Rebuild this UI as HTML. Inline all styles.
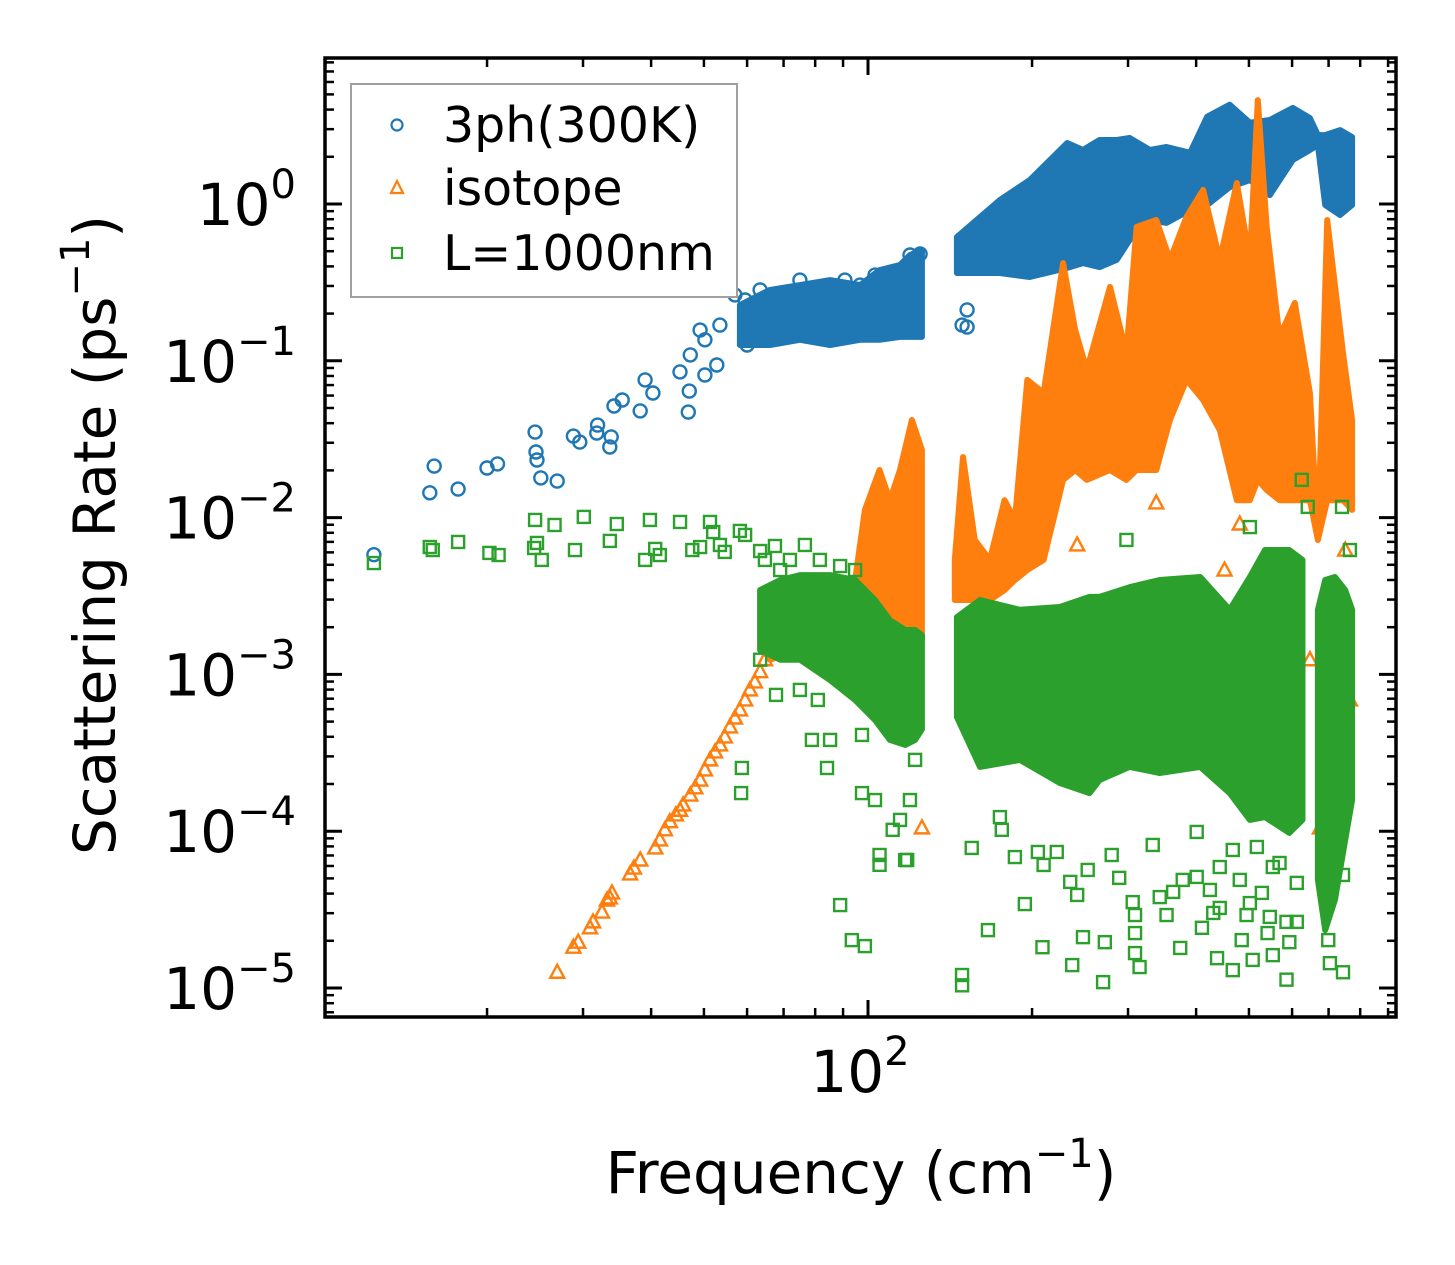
<!DOCTYPE html>
<html><head><meta charset="utf-8"><style>
html,body{margin:0;padding:0;background:#fff;}
svg{display:block;font-family:"DejaVu Sans","Liberation Sans",sans-serif;}
</style></head><body>
<svg id="chart" width="1455" height="1265" viewBox="0 0 1455 1265" xmlns="http://www.w3.org/2000/svg">
<rect width="1455" height="1265" fill="#fff"/>
<defs><clipPath id="plotclip"><rect x="325" y="58" width="1071" height="959"/></clipPath></defs>
<g id="marks" clip-path="url(#plotclip)"></g>
<g id="axes"></g>
<text x="861" y="1193" font-size="58" text-anchor="middle">Frequency (cm<tspan font-size="40" dy="-26">−1</tspan><tspan dy="26">)</tspan></text>
<text transform="translate(115,535) rotate(-90)" font-size="58" text-anchor="middle">Scattering Rate (ps<tspan font-size="40" dy="-26">−1</tspan><tspan dy="26">)</tspan></text>
<g>
<rect x="351" y="84" width="386" height="213" fill="#fff" stroke="#a0a0a0" stroke-width="2"/>
<circle cx="397" cy="125" r="5.5" fill="none" stroke="#1f77b4" stroke-width="2.2"/>
<text x="443" y="142" font-size="49">3ph(300K)</text>
<polygon points="397,181 403,193 391,193" fill="none" stroke="#ff7f0e" stroke-width="2.2"/>
<text x="443" y="205" font-size="49">isotope</text>
<rect x="392" y="248" width="10" height="10" fill="none" stroke="#2ca02c" stroke-width="2.2"/>
<text x="443" y="270" font-size="49">L=1000nm</text>
</g>
</svg>
<script>
// ---------- data ----------
var blueFreq=[12.4,15.7,16.0,17.7,20.0,20.9,24.5,24.6,24.7,25.1,26.9,28.8,29.6,31.8,31.9,33.6,33.8,34.2,35.4,38.2,39.0,40.3,47.0,46.8,45.2,50.2,52.8,60.0,62.6,66.1,70.4,63.4,50.2,47.2,49.2,53.5,57.0,59.5,63.4,75.0,85.2,90.7,96.7,103,105,114.5,119.4,124.6,152,152,148.8];
var blueRate=[0.0058,0.0144,0.0213,0.0152,0.0207,0.022,0.0351,0.0262,0.0233,0.0179,0.0171,0.0331,0.0303,0.0346,0.0389,0.0282,0.0327,0.0515,0.0562,0.0479,0.0755,0.0623,0.0641,0.0471,0.0849,0.0812,0.094,0.126,0.14,0.196,0.244,0.164,0.136,0.109,0.157,0.169,0.263,0.244,0.283,0.327,0.283,0.327,0.304,0.352,0.283,0.379,0.473,0.48,0.211,0.164,0.169];
var blueBandAFreq=[58.2,66.1,75,85.2,96.7,105,114.5,119.4,125.6];
var blueBandAHigh=[0.227,0.283,0.304,0.327,0.304,0.379,0.408,0.473,0.509];
var blueBandALow=[0.126,0.126,0.136,0.126,0.136,0.136,0.142,0.142,0.142];
var blueBandBFreq=[145.6,174.6,198,232,248,266,286,302,329,353,390,419,461,502,546,602,647,669,690,735,773];
var blueBandBHigh=[0.616,1.06,1.42,2.45,2.21,2.56,2.56,2.64,2.21,2.31,2.12,3.6,4.3,3.3,3.43,4.1,3.53,2.75,2.75,2.96,2.67];
var blueBandBLow=[0.363,0.363,0.342,0.391,0.42,0.396,0.44,0.589,0.79,0.757,0.916,0.985,1.28,1.42,1.14,1.91,2.21,2.38,0.985,0.851,0.985];

var orangeFreq=[26.9,28.8,29.4,30.9,31.3,32.5,33.2,33.6,33.9,36.6,37.2,38.2,40.7,41.5,42.4,43.3,44.4,45.2,45.8,47.2,48.2,49.2,50.2,51.3,52.4,53.5,54.6,55.8,57.0,58.2,59.5,60.7,62.0,63.4,64.7,66.1,751,647,751,481,451,338,675,242,766,125.6];
var orangeRate=[1.26e-5,1.82e-5,1.96e-5,2.42e-5,2.64e-5,3.05e-5,3.64e-5,3.75e-5,4.04e-5,5.34e-5,5.82e-5,6.55e-5,7.82e-5,8.79e-5,1.02e-4,1.15e-4,1.27e-4,1.36e-4,1.47e-4,1.70e-4,1.89e-4,2.12e-4,2.46e-4,2.85e-4,3.2e-4,3.55e-4,3.99e-4,4.62e-4,5.27e-4,5.93e-4,6.87e-4,7.96e-4,8.95e-4,1.04e-3,1.24e-3,1.43e-3,3.4e-4,1.24e-3,0.00621,0.0091,0.00463,0.0124,1.05e-4,0.00669,6.87e-4,1.05e-4];
var orangeBandAFreq=[66.1,75,85.2,94.7,98.7,105,109.7,114.5,120.4,125.6];
var orangeBandAHigh=[1.43e-3,1.78e-3,2.22e-3,4.0e-3,0.0112,0.0201,0.0129,0.0201,0.0419,0.027];
var orangeBandALow=[1.24e-3,1.43e-3,1.66e-3,1.66e-3,1.66e-3,1.66e-3,1.66e-3,1.66e-3,1.66e-3,1.66e-3];
var orangeBandBFreq=[144.3,149.4,157,167.4,178,186,196,210,228,240,252,278,298,311,338,358,384,412,442,475,502,519,539,569,607,647,669,696,744,773];
var orangeBandBHigh=[0.00537,0.0243,0.0072,0.00537,0.0129,0.00966,0.0755,0.0623,0.42,0.157,0.0873,0.296,0.112,0.714,0.79,0.44,0.826,1.23,0.44,1.36,0.44,4.6,0.714,0.142,0.234,0.0623,0.0072,0.79,0.112,0.0419];
var orangeBandBLow=[0.00298,0.00298,0.00298,0.00298,0.00345,0.004,0.00463,0.00537,0.0174,0.0201,0.0174,0.0201,0.0174,0.0201,0.0201,0.0419,0.0755,0.0562,0.0362,0.0129,0.0129,0.0174,0.015,0.0129,0.0129,0.0129,0.0072,0.0129,0.0129,0.0112];

var greenFreq=[12.4,15.7,15.9,17.7,20.2,21.0,24.4,24.5,24.7,25.2,26.6,29.0,30.1,33.6,34.6,39.8,40.7,45.2,47.6,51.3,52.0,54.6,58.2,59.5,63.4,67.5,71.9,76.6,81.6,88.9,94.7,39.0,41.5,49.2,53.5,64.7,69.0,
58.7,58.5,78.9,85.2,84.1,97.5,97.5,103,105,111,114.5,119.4,122,117,88.9,93.4,98.7,80.9,63.4,67.8,75,105,118,
155,166,148.8,148.8,174.6,176,186,194,205,209,210,222,235,242,237,248,253,270,272,280,289,306,309,309,309,315,343,353,363,378,374,401,410,424,430,437,442,467,485,495,508,502,528,541,553,546,586,586,612,593,612,704,744,744,699,401,333,467,481,442,553,517,569,625,641,741,502,298,766];
var greenRate=[0.00513,0.00649,0.00621,0.00699,0.00595,0.00577,0.0064,0.00966,0.00689,0.00537,0.00897,0.00621,0.0101,0.0071,0.0091,0.00966,0.00631,0.00938,0.00621,0.00938,0.00809,0.00604,0.00822,0.00775,0.00612,0.00659,0.00537,0.00669,0.00537,0.00491,0.00463,0.00537,0.00577,0.00649,0.00669,0.00537,0.00463,
2.53e-4,1.75e-4,3.82e-4,3.82e-4,2.53e-4,4.11e-4,1.75e-4,1.58e-4,7.05e-5,1.02e-4,1.18e-4,1.58e-4,2.85e-4,6.55e-5,3.38e-5,2.02e-5,1.85e-5,6.87e-4,1.24e-3,7.4e-4,7.96e-4,6.1e-5,6.55e-5,
7.82e-5,2.34e-5,1.21e-5,1.04e-5,1.23e-4,1.02e-4,6.84e-5,3.43e-5,7.37e-5,1.82e-5,6.09e-5,7.37e-5,4.75e-5,3.92e-5,1.4e-5,2.11e-5,5.66e-5,1.09e-5,1.96e-5,7.05e-5,5.04e-5,3.53e-5,2.92e-5,2.24e-5,1.67e-5,1.36e-5,3.8e-5,2.92e-5,4.1e-5,4.89e-5,1.8e-5,5.11e-5,2.42e-5,4.22e-5,3.01e-5,1.55e-5,3.24e-5,1.3e-5,2.02e-5,2.92e-5,1.51e-5,3.48e-5,4.04e-5,2.24e-5,1.62e-5,2.84e-5,1.13e-5,2.64e-5,2.64e-5,1.96e-5,4.68e-5,1.44e-5,1.26e-5,5.26e-5,2.02e-5,9.89e-5,8.17e-5,7.59e-5,4.89e-5,5.91e-5,5.91e-5,7.93e-5,6.27e-5,0.0174,0.0117,0.0117,0.0087,0.0072,0.00621];
var greenBandAFreq=[63.4,69.0,75,85.2,94.7,103,109.7,117,122,125.6];
var greenBandAHigh=[0.00345,0.004,0.0043,0.0043,0.004,0.00298,0.00222,0.00192,0.00192,0.00178];
var greenBandALow=[0.00143,0.00124,0.00124,0.00092,0.000687,0.000512,0.000382,0.000355,0.000382,0.000446];
var greenBandBFreq=[145.6,160.5,190,225,255,266,302,343,407,461,502,535,593,627];
var greenBandBHigh=[0.00232,0.00298,0.00258,0.00269,0.00312,0.00312,0.0036,0.004,0.00418,0.00258,0.00418,0.00621,0.00621,0.00537];
var greenBandBLow=[5.35e-4,2.57e-4,2.85e-4,2.03e-4,1.75e-4,2.12e-4,2.57e-4,2.35e-4,2.57e-4,1.75e-4,1.18e-4,1.23e-4,9.75e-5,1.18e-4];
var greenBandCFreq=[669,690,719,751,773];
var greenBandCHigh=[0.00258,0.004,0.00418,0.00345,0.00258];
var greenBandCLow=[4.89e-5,2.34e-5,3.64e-5,8.79e-5,1.58e-4];

var yTickExps=[0,-1,-2,-3,-4,-5];
var yTickLabels=["0","−1","−2","−3","−4","−5"];
var xTickExps=[2];
var xTickLabels=["2"];

// ---------- scales ----------
var PL=325,PR=1396,PT=58,PB=1017;
var XMIN=1.0037,XMAX=2.9688,YMIN=-5.185,YMAX=0.931;
function sx(f){return PL+(Math.log10(f)-XMIN)/(XMAX-XMIN)*(PR-PL);}
function sy(r){return PB-(Math.log10(r)-YMIN)/(YMAX-YMIN)*(PB-PT);}
var SVGNS="http://www.w3.org/2000/svg";
var marksG=document.getElementById('marks');
var axesG=document.getElementById('axes');
function mk(tag,attrs,parent){var e=document.createElementNS(SVGNS,tag);for(var k in attrs)e.setAttribute(k,attrs[k]);parent.appendChild(e);return e;}

function band(freq,high,low,color,name){
  var pts=[];
  for(var i=0;i<freq.length;i++)pts.push(sx(freq[i]).toFixed(1)+","+sy(high[i]).toFixed(1));
  for(var j=freq.length-1;j>=0;j--)pts.push(sx(freq[j]).toFixed(1)+","+sy(low[j]).toFixed(1));
  var p=mk('polygon',{points:pts.join(' '),fill:color,stroke:color,'stroke-width':6,'stroke-linejoin':'round'},marksG);
  
  
}
function circles(fr,rt,color){
  for(var i=0;i<fr.length;i++){
    var c=mk('circle',{cx:sx(fr[i]).toFixed(1),cy:sy(rt[i]).toFixed(1),r:6.5,fill:'none',stroke:color,'stroke-width':2.4},marksG);
    
    
  }
}
function tris(fr,rt,color){
  for(var i=0;i<fr.length;i++){
    var x=sx(fr[i]),y=sy(rt[i]);
    var t=mk('polygon',{points:x+','+(y-7.5)+' '+(x+7)+','+(y+5.5)+' '+(x-7)+','+(y+5.5),fill:'none',stroke:color,'stroke-width':2.4},marksG);
    
    
  }
}
function squares(fr,rt,color){
  for(var i=0;i<fr.length;i++){
    var x=sx(fr[i]),y=sy(rt[i]);
    var s=mk('rect',{x:x-6,y:y-6,width:12,height:12,fill:'none',stroke:color,'stroke-width':2.4},marksG);
    
    
  }
}
var BLUE='#1f77b4',ORANGE='#ff7f0e',GREEN='#2ca02c';
band(blueBandAFreq,blueBandAHigh,blueBandALow,BLUE,'3ph-dense-band-low');
band(blueBandBFreq,blueBandBHigh,blueBandBLow,BLUE,'3ph-dense-band-high');
circles(blueFreq,blueRate,BLUE);
band(orangeBandAFreq,orangeBandAHigh,orangeBandALow,ORANGE,'isotope-dense-band-low');
band(orangeBandBFreq,orangeBandBHigh,orangeBandBLow,ORANGE,'isotope-dense-band-high');
tris(orangeFreq,orangeRate,ORANGE);
band(greenBandAFreq,greenBandAHigh,greenBandALow,GREEN,'boundary-dense-band-a');
band(greenBandBFreq,greenBandBHigh,greenBandBLow,GREEN,'boundary-dense-band-b');
band(greenBandCFreq,greenBandCHigh,greenBandCLow,GREEN,'boundary-dense-band-c');
squares(greenFreq,greenRate,GREEN);

// ---------- axes ----------
var frameRect=mk('rect',{x:PL,y:PT,width:PR-PL,height:PB-PT,fill:'none',stroke:'#000','stroke-width':3.5},axesG);


function tick(x1,y1,x2,y2,w,name){
  var l=mk('line',{x1:x1,y1:y1,x2:x2,y2:y2,stroke:'#000','stroke-width':w},axesG);
  
  
}
for(var d=1;d<=2;d++){
  for(var k=1;k<=9;k++){
    var f=k*Math.pow(10,d);var lf=Math.log10(f);
    if(lf<XMIN||lf>XMAX)continue;
    var x=sx(f);var major=(k===1);var len=major?17:9;var w=major?3:2.5;
    tick(x,PB,x,PB-len,w,major?'x-major-tick':'x-minor-tick');
    tick(x,PT,x,PT+len,w,major?'x-major-tick-top':'x-minor-tick-top');
  }
}
for(var d2=-6;d2<=0;d2++){
  for(var k2=1;k2<=9;k2++){
    var r=k2*Math.pow(10,d2);var lr=Math.log10(r);
    if(lr<YMIN||lr>YMAX)continue;
    var y=sy(r);var maj=(k2===1);var ln=maj?17:9;var wd=maj?3:2.5;
    tick(PL,y,PL+ln,y,wd,maj?'y-major-tick':'y-minor-tick');
    tick(PR,y,PR-ln,y,wd,maj?'y-major-tick-right':'y-minor-tick-right');
  }
}
for(var i=0;i<yTickExps.length;i++){
  var yy=sy(Math.pow(10,yTickExps[i]));
  var t=mk('text',{x:296,y:yy+21,'font-size':58,'text-anchor':'end'},axesG);
  
  
  var a=mk('tspan',{},t);a.textContent='10';
  var b=mk('tspan',{'font-size':40,dy:-27},t);b.textContent=yTickLabels[i];
}
for(var i2=0;i2<xTickExps.length;i2++){
  var xx=sx(Math.pow(10,xTickExps[i2]));
  var t2=mk('text',{x:xx-8,y:1092,'font-size':58,'text-anchor':'middle'},axesG);
  
  
  var a2=mk('tspan',{},t2);a2.textContent='10';
  var b2=mk('tspan',{'font-size':40,dy:-27},t2);b2.textContent=xTickLabels[i2];
}
</script>
</body></html>
